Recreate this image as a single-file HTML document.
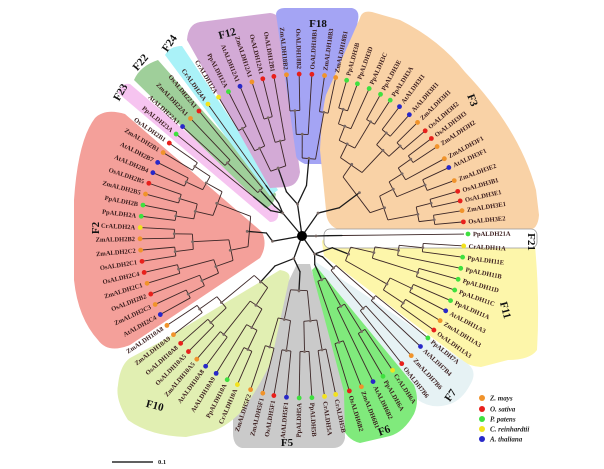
<!DOCTYPE html>
<html><head><meta charset="utf-8"><style>
html,body{margin:0;padding:0;background:#fff;}
svg{display:block;}
text{font-family:"Liberation Serif",serif;}
</style></head><body>
<svg id="s" width="604" height="469" viewBox="0 0 604 469" xmlns="http://www.w3.org/2000/svg">
<g id="bg" stroke="none">
<path d="M95,118 Q105,108 125,114 L262,232 Q268,245 260,258 L130,345 Q108,354 98,340 Q78,318 74,280 L74,200 Q78,140 95,118 Z" fill="#f4a09a"/>
<path d="M118,93 Q122,82 130,84 L278,210 Q280,222 270,222 Z" fill="#f6c4f0"/>
<path d="M134,80 Q140,66 158,60 L276,194 Q274,206 265,208 Z" fill="#9fcf9a"/>
<path d="M165,55 Q170,46 182,46 L278,190 L270,196 Z" fill="#aaf2f8"/>
<path d="M187,40 Q188,24 200,22 L270,13 Q280,14 280,24 L300,172 Q298,186 286,187 L270,188 Z" fill="#d3aad6"/>
<path d="M276,14 Q277,8 285,8 L352,8 Q360,10 358,20 L334,158 Q330,165 320,164 L305,164 Q296,160 296,155 Z" fill="#a4a4f4"/>
<path d="M360,18 Q362,10 372,12 L400,20 Q440,40 465,72 Q520,130 536,190 L539,215 Q538,230 528,230 L340,230 Q326,226 326,210 L320,150 Q322,110 326,95 Z" fill="#f9d2a6"/>
<path d="M322,242 Q322,238 330,238 L535,246 Q540,300 537,350 Q530,360 508,360 L481,367 Q468,366 462,360 L324,256 Z" fill="#fdf6aa"/>
<path d="M316,262 L468,364 Q478,372 470,385 Q462,400 450,404 Q432,410 418,400 L314,268 Z" fill="#e6f2f4"/>
<path d="M316,266 L414,385 Q420,400 414,414 Q404,432 390,436 L360,443 Q346,440 340,422 L312,270 Z" fill="#80ea7c"/>
<path d="M297,264 L310,264 L344,392 L345,438 Q343,448 333,448 L242,448 Q233,446 233,433 L233,395 Z" fill="#cacaca"/>
<path d="M280,270 Q292,272 289,280 L271,362 Q255,395 240,413 Q225,428 210,432 L186,437 Q150,436 128,420 Q115,400 118,385 Q120,365 130,358 L160,342 Z" fill="#e1efb2"/>
<rect x="324" y="229" width="213" height="19" rx="6" fill="#fff" stroke="#999" stroke-width="0.8"/>
</g>
<g id="tree" stroke="#3b2626" stroke-width="0.9" fill="none"></g>
<g id="hub" stroke="#1a1a1a" stroke-width="1.3" fill="none" stroke-linecap="round"></g>
<g id="dots"></g>
<g id="labels" font-size="6.5" font-weight="bold" fill="#3a1c1c"></g>
<circle cx="302" cy="236" r="5" fill="#000"/>
<g font-size="11" font-weight="bold" fill="#111" font-family="Liberation Serif,serif">
<text x="318" y="27" text-anchor="middle">F18</text>
<text x="227" y="37" text-anchor="middle" transform="rotate(-15 227 33)">F12</text>
<text x="169" y="47" text-anchor="middle" transform="rotate(-55 169 43)">F24</text>
<text x="140" y="66" text-anchor="middle" transform="rotate(-50 140 62)">F22</text>
<text x="120" y="96" text-anchor="middle" transform="rotate(-60 120 92)">F23</text>
<text x="95" y="232" text-anchor="middle" transform="rotate(-90 95 228)">F2</text>
<text x="473" y="104" text-anchor="middle" transform="rotate(70 473 100)">F3</text>
<text x="532" y="246" text-anchor="middle" transform="rotate(90 532 242)">F21</text>
<text x="506" y="314" text-anchor="middle" transform="rotate(75 506 310)">F11</text>
<text x="450" y="399" text-anchor="middle" transform="rotate(-55 450 395)">F7</text>
<text x="384" y="434" text-anchor="middle" transform="rotate(-20 384 430)">F6</text>
<text x="287" y="446" text-anchor="middle">F5</text>
<text x="155" y="409" text-anchor="middle" transform="rotate(15 155 405)">F10</text>
</g>
<g font-size="7" font-weight="bold" font-style="italic" fill="#222">
<circle cx="482" cy="398" r="3" fill="#f0932b"/><text x="490" y="400.5">Z. mays</text>
<circle cx="482" cy="409" r="3" fill="#e8201c"/><text x="490" y="411.5">O. sativa</text>
<circle cx="482" cy="419" r="3" fill="#3fe03f"/><text x="490" y="421.5">P. patens</text>
<circle cx="482" cy="429" r="3" fill="#f2e21e"/><text x="490" y="431.5">C. reinhardtii</text>
<circle cx="482" cy="439" r="3" fill="#2828c8"/><text x="490" y="441.5">A. thaliana</text>
</g>
<line x1="112" y1="462" x2="153" y2="462" stroke="#000" stroke-width="1.2"/>
<text x="158" y="464" font-size="6.5" font-weight="bold" fill="#222">0.1</text>
</svg>
<script>
var CX=302,CY=236,NS="http://www.w3.org/2000/svg";
function P(r,a){var t=a*Math.PI/180;return [CX+r*Math.cos(t),CY+r*Math.sin(t)];}
function el(g,n,at){var e=document.createElementNS(NS,n);for(var k in at)e.setAttribute(k,at[k]);document.getElementById(g).appendChild(e);return e;}
function line(g,p,q){el(g,"line",{x1:p[0],y1:p[1],x2:q[0],y2:q[1]});}
var col={Zm:"#f0932b",Os:"#e8201c",Pp:"#3fe03f",Cr:"#f2e21e",At:"#2828c8"};
function ang(s,n,st){var a=[];for(var i=0;i<n;i++)a.push(s+i*st);return a;}
var clades=[
 [["PpALDH21A"],[-0.7],40,0],
 [["CrALDH11A","PpALDH11E","PpALDH11B","PpALDH11D","PpALDH11C","PpALDH11A","AtALDH11A3","ZmALDH11A3","OsALDH11A3"],ang(3.5,9,4),50,1],
 [["PpALDH7A","AtALDH7B4","ZmALDH7B6","OsALDH7B6"],[39,43,47.6,52],45,1],
 [["CrALDH6A","PpALDH6A","AtALDH6B2","ZmALDH6B1","OsALDH6B2"],[56,60,64,68.5,73],48,1],
 [["CrALDH5B","CrALDH5A","PpALDH5B","PpALDH5A","AtALDH5F1","OsALDH5F1","ZmALDH5F1","ZmALDH5F2"],[78,82,86.5,91,95.5,100,104,108.5],55,2],
 [["CrALDH10A","PpALDH10A","AtALDH10A9","AtALDH10A8","ZmALDH10A5","OsALDH10A5","OsALDH10A8","ZmALDH10A9","ZmALDH10A8"],[113.5,117.5,122,126.5,130.5,134.5,138.5,142.5,146.5],62,2],
 [["AtALDH2C4","ZmALDH2C3","OsALDH2B2","ZmALDH2C1","OsALDH2C4","OsALDH2C1","ZmALDH2C2","ZmALDH2B2","CrALDH2A","PpALDH2A","PpALDH2B","ZmALDH2B5","OsALDH2B5","AtALDH2B4","AtALDH2B7","ZmALDH2B1","OsALDH2B1"],ang(151,17,4),55,3],
 [["PpALDH23A"],[219],62,4],
 [["AtALDH22A1","ZmALDH22A1","OsALDH22A1"],[222.5,226.5,230.5],62,4],
 [["CrALDH24A"],[234.5],62,4],
 [["CrALDH12A","PpALDH12A","AtALDH12A1","ZmALDH12A1","OsALDH12A1","OsALDH12B1"],[239,243,247.5,252,256,260],72,5],
 [["ZmALDH18B2","OsALDH18B2","OsALDH18B1","ZmALDH18B3","ZmALDH18B1"],[264.5,269,273.5,278,282],78,5],
 [["PpALDH3B","PpALDH3D","PpALDH3C","PpALDH3E","PpALDH3A","AtALDH3I1","AtALDH3H1","ZmALDH3H1","OsALDH3H2","OsALDH3H3","ZmALDH3H2","ZmALDH3F1","AtALDH3F1","ZmALDH3E2","OsALDH3B1","OsALDH3E1","ZmALDH3E1","OsALDH3E2"],[286,290,294.5,299,303,307,311.5,315.5,319.5,323,326.5,331.5,335,340,344,347.5,351,355],72,6]
];
var hubs=[P(14,0),P(22,55),P(24,110),P(30,170),P(30,230),P(32,262),P(28,305)];
hubs.forEach(function(h){line("hub",h,[CX,CY]);el("dots","circle",{cx:h[0],cy:h[1],r:1.4,fill:"#7a6a66"});});
function height(n){return n.c?1+Math.max(height(n.c[0]),height(n.c[1])):0;}
function build(ls){if(ls.length==1)return ls[0];var m=Math.ceil(ls.length/2);return {c:[build(ls.slice(0,m)),build(ls.slice(m))]};}
function draw(n,H,rr){
 if(!n.c){n.r=162;return n;}
 var a=draw(n.c[0],H,rr),b=draw(n.c[1],H,rr);
 var h=height(n);n.r=rr+(162-rr)*(1-h/H)*0.85;
 line("tree",P(a.r,a.a),P(n.r,a.a));line("tree",P(b.r,b.a),P(n.r,b.a));
 line("tree",P(n.r,a.a),P(n.r,b.a));
 n.a=(a.a+b.a)/2;var q=P(n.r,n.a);
 el("dots","circle",{cx:q[0],cy:q[1],r:1.4,fill:"#7a6a66"});
 return n;}
clades.forEach(function(cl){
 var names=cl[0],an=cl[1],rr=cl[2],hb=hubs[cl[3]];
 var leaves=names.map(function(nm,i){return {a:an[i],name:nm};});
 var root;
 if(leaves.length==1){root=leaves[0];line("tree",P(162,root.a),P(rr,root.a));root.r=rr;}
 else{var t=build(leaves);var H=height(t);root=draw(t,H,rr);}
 var ma=root.a;
 var mid=P(rr*0.65,ma);
 line("hub",P(root.r,ma),mid);line("hub",mid,hb);
 leaves.forEach(function(l){
  var rd=names[0]=="PpALDH21A"?166:162;var p=P(rd,l.a);
  el("dots","circle",{cx:p[0],cy:p[1],r:2.4,fill:col[l.name.slice(0,2)]});
  var tp=P(rd+5,l.a);var a=l.a,right=Math.cos(a*Math.PI/180)>=0;
  var t=el("labels","text",{x:tp[0],y:tp[1]+2.2,"text-anchor":right?"start":"end",transform:"rotate("+(right?a:a+180)+" "+tp[0]+" "+tp[1]+")"});
  t.textContent=l.name;
 });
});
</script>
</body></html>
